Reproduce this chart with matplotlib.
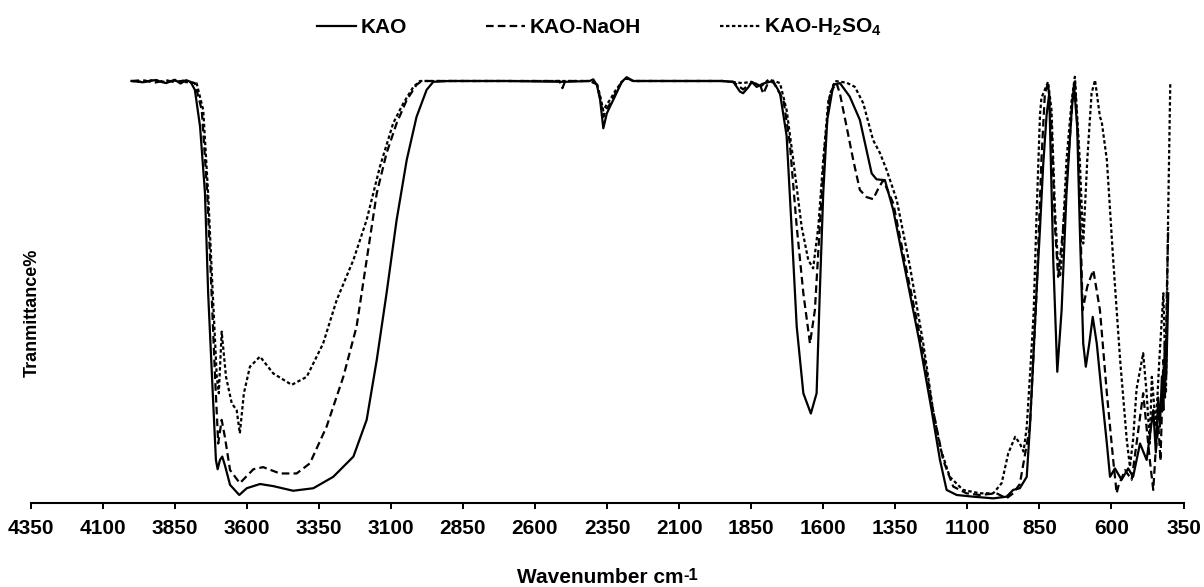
import numpy as np
import matplotlib
matplotlib.use('Agg')
import matplotlib.pyplot as plt

plt.rcParams['font.family'] = ['Liberation Sans', 'DejaVu Sans']
plt.rcParams['font.weight'] = 'bold'
plt.rcParams['mathtext.fontset'] = 'custom'
plt.rcParams['mathtext.rm'] = 'Liberation Sans:bold'
plt.rcParams['mathtext.it'] = 'Liberation Sans:bold'
plt.rcParams['mathtext.bf'] = 'Liberation Sans:bold'
plt.rcParams['lines.scale_dashes'] = False

# FTIR spectra (wavenumber cm-1, transmittance %)
kao_wn = [4000, 3960, 3920, 3880, 3850, 3830, 3810, 3795, 3780, 3762, 3745, 3734, 3718, 3707,
          3701, 3693, 3685, 3676, 3658, 3626, 3600, 3554, 3508, 3439, 3369, 3300, 3230, 3184,
          3149, 3115, 3080, 3045, 3011, 2976, 2953, 2900, 2700, 2500, 2410, 2398, 2385, 2374,
          2363, 2351, 2340, 2323, 2299, 2282, 2259, 2100, 1950, 1912, 1889, 1878, 1860, 1848,
          1831, 1808, 1774, 1750, 1727, 1710, 1692, 1669, 1643, 1623, 1612, 1600, 1586, 1565,
          1542, 1508, 1473, 1432, 1415, 1386, 1357, 1311, 1265, 1224, 1195, 1172, 1137, 1080,
          1010, 964, 941, 918, 894, 883, 872, 860, 848, 837, 825, 816, 802, 788, 773, 756, 738,
          730, 719, 710, 698, 689, 677, 665, 651, 634, 616, 605, 588, 565, 542, 525, 501, 478,
          455, 446, 438, 432, 425, 420, 415, 410, 403]
kao_t = [100, 99.7, 100.2, 99.5, 100.3, 99.4, 100.2, 99.8, 97.9, 89.2, 73.5, 49.8, 26.1, 10.2,
         8.0, 10.2, 11.0, 9.0, 4.3, 1.9, 3.5, 4.5, 4.0, 2.9, 3.5, 6.2, 11.0, 19.7,
         33.9, 49.7, 67.1, 81.3, 91.5, 97.9, 99.8, 100, 100, 99.8, 100, 100.4, 99, 95.5,
         88.8, 92.3, 93.9, 96.3, 99.8, 100.9, 100, 100, 100, 99.8, 97.5, 97.1, 98.5, 99.8,
         98.6, 99.4, 100, 97.1, 87, 65.5, 41.8, 26.0, 21.2, 26.0, 49.7, 73.4, 90.8, 99.1,
         99.5, 96.3, 90.8, 78.1, 76.7, 76.5, 69.4, 53.6, 37.8, 22.0, 10.2, 3.1, 1.9, 1.5,
         1.1, 1.5, 3.1, 3.5, 6.2, 18, 33, 50, 65, 80, 92, 97, 57.6, 31.1, 45.7, 73.4, 93.1,
         99.1, 89.2, 65.5, 37.8, 32.3, 37.8, 44.1, 37.8, 26.0, 14.1, 6.2, 8.2, 5.5, 8.2, 6.2, 14.1, 10.2,
         22.0, 12, 25, 18.1, 30, 22, 37.8, 30, 49.7]

naoh_wn = [4000, 3960, 3920, 3880, 3850, 3820, 3780, 3756, 3737, 3722, 3710, 3699, 3687, 3676,
           3658, 3624, 3577, 3543, 3485, 3427, 3381, 3323, 3265, 3219, 3184, 3149, 3115, 3080,
           3045, 3011, 2993, 2700, 2515, 2505, 2495, 2410, 2385, 2374, 2363, 2351, 2340, 2323,
           2299, 2282, 2259, 2100, 1950, 1912, 1878, 1848, 1820, 1808, 1795, 1774, 1738, 1716,
           1692, 1669, 1646, 1629, 1612, 1594, 1577, 1554, 1542, 1519, 1496, 1473, 1450, 1427,
           1409, 1392, 1357, 1311, 1259, 1219, 1184, 1149, 1103, 1057, 999, 964, 941, 918, 883,
           860, 843, 831, 820, 808, 796, 785, 767, 750, 735, 727, 715, 700, 684, 663, 640, 616,
           594, 582, 576, 553, 530, 513, 490, 467, 455, 447, 437, 430, 420, 414, 408, 403]
naoh_t = [100, 100.2, 99.6, 100.2, 99.7, 100.1, 99.5, 93.1, 73.4, 49.7, 29.9, 14.1, 19.7, 15.7,
          7.8, 4.7, 8.0, 8.5, 7.0, 7.0, 9.4, 18.1, 29.9, 41.8, 57.6, 73.4, 82.9, 90.0,
          95.5, 99.1, 100, 100, 100, 98.3, 100, 100, 99.2, 96, 91.5, 93.5, 94.5, 96.8,
          99.8, 100.7, 100, 100, 100, 99.8, 98.0, 99.6, 99.2, 97.0, 99.0, 99.8, 95.5, 85.2,
          65.5, 49.7, 37.8, 45.7, 65.5, 85.2, 97.1, 99.5, 97, 89.2, 81.3, 74.2, 72.5, 72.0,
          74.5, 76.5, 71.0, 55.2, 37.8, 22.0, 10.2, 3.9, 2.3, 1.9, 2.3, 1.1, 2.3, 4.5, 18.1,
          49.7, 81.3, 97.1, 99.5, 89.2, 65.5, 53.6, 65.5, 81.3, 95.5, 100.2, 85.2, 45.7, 51.3, 55.2, 45.7, 26.0,
          10.2, 2.3, 4.0, 7.8, 5.5, 14.1, 26.0, 10.2, 3.1, 12, 18.1, 10, 33.9, 25, 49.7, 65.5]

h2so4_wn = [4000, 3960, 3920, 3880, 3850, 3820, 3774, 3751, 3734, 3718, 3704, 3697, 3687, 3672,
            3652, 3635, 3624, 3610, 3589, 3554, 3508, 3444, 3392, 3335, 3288, 3230, 3184, 3138,
            3092, 3057, 3022, 2999, 2700, 2410, 2385, 2374, 2363, 2351, 2340, 2323, 2299, 2282,
            2259, 2100, 1950, 1880, 1850, 1815, 1790, 1770, 1750, 1727, 1704, 1675, 1652, 1635,
            1617, 1600, 1582, 1559, 1519, 1490, 1461, 1427, 1403, 1380, 1345, 1299, 1253, 1219,
            1195, 1161, 1115, 1057, 1010, 981, 958, 934, 918, 905, 894, 883, 870, 860, 848, 843,
            820, 808, 796, 785, 778, 773, 756, 738, 727, 710, 698, 684, 669, 657, 640, 634, 616,
            594, 570, 547, 536, 525, 513, 490, 478, 467, 460, 446, 434, 420, 411, 404, 396]
h2so4_t = [100, 99.8, 100.3, 99.7, 100.1, 99.8, 99.5, 93.1, 73.4, 49.7, 29.9, 26.0, 40.6, 29.9,
           23.6, 22.0, 16.5, 26.0, 32.3, 34.7, 30.7, 28.0, 29.9, 37.8, 48.1, 57.6, 67.1, 79.7,
           90.0, 94.7, 98.6, 100, 100, 100, 99.3, 96.5, 93, 94.5, 95.5, 97.5, 99.8, 100.6,
           100, 100, 100, 99.5, 99.8, 98.8, 100.3, 100, 99.5, 93.1, 81.3, 65.5, 57.6, 55.6,
           65.5, 81.3, 95.5, 100, 99.6, 98.6, 94.7, 86.0, 82.9, 78.9, 71.8, 56.0, 37.8, 22.0,
           13.3, 6.2, 3.1, 2.3, 2.3, 4.7, 11.8, 15.7, 14.1, 12.2, 18, 30, 45, 68, 92, 96,
           99.8, 93.1, 69.4, 56.0, 54, 57.6, 81.3, 95.5, 101.0, 81.3, 61.5, 81.3, 97.1, 100.2, 91.5, 90.4, 81.3,
           57.6, 33.9, 15, 8.6, 15, 27, 35.5, 26.0, 14.1, 29.9, 18.1, 33.9, 49.7, 26.0, 65.5, 99.5]

xticks = list(range(4350, 349, -250))

fig = plt.figure(figsize=(12.04, 5.87), dpi=100)
ax = fig.add_axes([0.0254, 0.1431, 0.9576, 0.7376])

ax.plot(kao_wn, kao_t, color='black', lw=1.6, label='KAO')
ax.plot(naoh_wn, naoh_t, color='black', lw=1.6, dashes=(5.5, 3), label='KAO-NaOH')
ax.plot(h2so4_wn, h2so4_t, color='black', lw=1.6, dashes=(2.5, 1.8), label='KAO-H$_2$SO$_4$')

ax.set_xlim(4350, 350)
ax.set_ylim(0, 102.6)
ax.set_xticks(xticks)
ax.set_xticklabels([str(t) for t in xticks], fontsize=15, fontweight='bold')
ax.tick_params(axis='x', direction='out', length=4.5, width=1.4, pad=7)
ax.set_yticks([])
for s in ['left', 'top', 'right']:
    ax.spines[s].set_visible(False)
ax.spines['bottom'].set_linewidth(1.5)

# x label: "cm-1" with a slightly raised, slightly smaller "-1"
xl = fig.text(517 / 1204, 4 / 587, 'Wavenumber cm', ha='left', va='baseline',
              fontsize=15, fontweight='bold')
fig.canvas.draw()
bb = xl.get_window_extent()
fig.text((bb.x1 - 0.5) / 1204, 7.5 / 587, '-1', ha='left', va='baseline',
         fontsize=12, fontweight='bold')

fig.text(32 / 1204, 1 - 313 / 587, 'Tranmittance%', rotation=90, ha='center', va='center',
         fontsize=13, fontweight='bold')

ax.legend(loc='center', bbox_to_anchor=(599 / 1204, 1 - 27.5 / 587), bbox_transform=fig.transFigure,
          ncol=3, frameon=False, fontsize=15, handlelength=1.9, handletextpad=0.2,
          columnspacing=3.8, borderpad=0)

fig.savefig('out.png', dpi=100)
